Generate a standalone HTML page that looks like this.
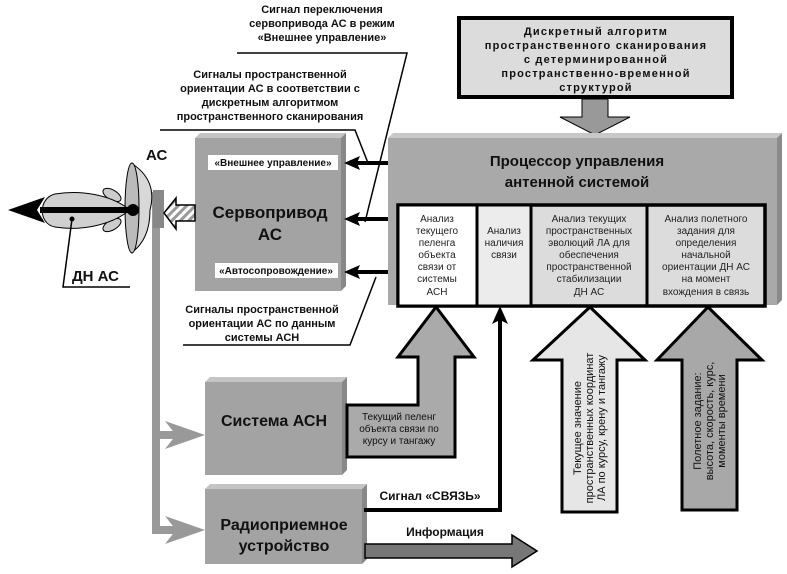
<!DOCTYPE html>
<html><head><meta charset="utf-8"><style>
html,body{margin:0;padding:0;background:#fff;}
svg{display:block;font-family:"Liberation Sans","DejaVu Sans",sans-serif;}
</style></head><body>
<svg width="787" height="574" viewBox="0 0 787 574" xmlns="http://www.w3.org/2000/svg">
<defs>
<pattern id="hatch" width="6" height="6" patternUnits="userSpaceOnUse" patternTransform="rotate(45)">
<rect width="6" height="6" fill="#fff"/><rect width="3" height="6" fill="#999"/></pattern>
</defs>

<g font-size="11" font-weight="bold" text-anchor="middle" fill="#111">
<text x="322" y="13">Сигнал переключения</text>
<text x="322" y="27">сервопривода АС в режим</text>
<text x="322" y="41">«Внешнее управление»</text>
<text x="270" y="78">Сигналы пространственной</text>
<text x="270" y="92">ориентации АС в соответствии с</text>
<text x="270" y="106">дискретным алгоритмом</text>
<text x="270" y="120">пространственного сканирования</text>
<text x="262" y="313">Сигналы пространственной</text>
<text x="262" y="327">ориентации АС по данным</text>
<text x="262" y="341">системы АСН</text>
</g>
<g stroke="#000" stroke-width="1.5" fill="none">
<polyline points="237,53 407,53 365,222"/>
<polyline points="160,130 355,130 368,163"/>
<polyline points="183,345 350,345 376,277"/>
</g>

<rect x="459" y="18" width="273" height="79" fill="#dcdcdc" stroke="#000" stroke-width="4"/>
<g font-size="11" font-weight="bold" text-anchor="middle" letter-spacing="1.2" fill="#111">
<text x="596" y="35">Дискретный алгоритм</text>
<text x="596" y="49">пространственного сканирования</text>
<text x="596" y="63">с детерминированной</text>
<text x="596" y="77">пространственно-временной</text>
<text x="596" y="91">структурой</text>
</g>
<polygon points="582,99 608,99 608,117 630,117 595,135 560,117 582,117" fill="#999" stroke="#000" stroke-width="1"/>

<polygon points="388,138 777,138 782,133 393,133" fill="#c8c8c8"/>
<polygon points="777,138 782,133 782,300 777,305" fill="#8a8a8a"/>
<rect x="388" y="138" width="389" height="167" fill="#a9a9a9"/>
<g font-size="15" font-weight="bold" text-anchor="middle" fill="#111">
<text x="577" y="166">Процессор управления</text>
<text x="577" y="187">антенной системой</text>
</g>
<rect x="398" y="205" width="367" height="101" fill="#dcdcdc" stroke="#000" stroke-width="3.5"/>
<rect x="399.5" y="206.5" width="77" height="98" fill="#fff"/>
<rect x="477" y="206.5" width="53" height="98" fill="#ececec"/>
<g stroke="#000" stroke-width="3"><line x1="477" y1="205" x2="477" y2="306"/><line x1="531" y1="205" x2="531" y2="306"/><line x1="647" y1="205" x2="647" y2="306"/></g>
<g font-size="10" text-anchor="middle" fill="#222">
<text x="437" y="222">Анализ</text><text x="437" y="234">текущего</text><text x="437" y="246">пеленга</text><text x="437" y="258">объекта</text><text x="437" y="270">связи от</text><text x="437" y="282">системы</text><text x="437" y="295">АСН</text>
<text x="504" y="234">Анализ</text><text x="504" y="246">наличия</text><text x="504" y="258">связи</text>
<text x="589" y="222">Анализ текущих</text><text x="589" y="234">пространственных</text><text x="589" y="246">эволюций ЛА для</text><text x="589" y="258">обеспечения</text><text x="589" y="270">пространственной</text><text x="589" y="282">стабилизации</text><text x="589" y="295">ДН АС</text>
<text x="706" y="222">Анализ полетного</text><text x="706" y="234">задания для</text><text x="706" y="246">определения</text><text x="706" y="258">начальной</text><text x="706" y="270">ориентации ДН АС</text><text x="706" y="282">на момент</text><text x="706" y="295">вхождения в связь</text>
</g>

<polygon points="195,138 341,138 346,133 200,133" fill="#c4c4c4"/>
<polygon points="341,138 346,133 346,286 341,291" fill="#888"/>
<rect x="195" y="138" width="146" height="153" fill="#a3a3a3"/>
<rect x="208" y="155" width="130" height="15" fill="#fff"/>
<rect x="215" y="263" width="123" height="15" fill="#fff"/>
<g font-size="10" font-weight="bold" text-anchor="middle" fill="#111">
<text x="273" y="166">«Внешнее управление»</text>
<text x="276" y="274">«Автосопровождение»</text>
</g>
<g font-size="17" font-weight="bold" text-anchor="middle" fill="#111">
<text x="270" y="218">Сервопривод</text><text x="270" y="240">АС</text>
</g>
<g stroke="#000" stroke-width="4"><line x1="388" y1="163" x2="355" y2="163"/><line x1="388" y1="219" x2="355" y2="219"/><line x1="388" y1="272" x2="355" y2="272"/></g>
<g fill="#000"><polygon points="344,163 360,156 357,163 360,170"/><polygon points="344,219 360,212 357,219 360,226"/><polygon points="344,272 360,265 357,272 360,279"/></g>

<rect x="152" y="192" width="8" height="342" fill="#999"/>
<rect x="153" y="190" width="11" height="38" fill="#888"/>
<rect x="157" y="431" width="20" height="8" fill="#999"/>
<rect x="157" y="526" width="20" height="8" fill="#999"/>
<polygon points="165,421 205,435 165,449 176,435" fill="#999"/>
<polygon points="165,516 205,530 165,544 176,530" fill="#999"/>
<polygon points="164,213 176,198 176,205 195,205 195,221 176,221 176,229" fill="url(#hatch)" stroke="#000" stroke-width="1.5"/>
<path d="M131,163 Q158,180 150,210 Q150,240 131,253" fill="#d8d8d8" stroke="#000" stroke-width="1"/>
<ellipse cx="132" cy="208" rx="7" ry="45" fill="#bbb" stroke="#000" stroke-width="1"/>
<ellipse cx="112" cy="195" rx="10" ry="5" transform="rotate(30 112 195)" fill="#ccc" stroke="#000"/>
<ellipse cx="112" cy="225" rx="10" ry="5" transform="rotate(-30 112 225)" fill="#ccc" stroke="#000"/>
<path d="M130,210 C110,194 80,190 55,194 C38,198 38,224 55,227 C80,231 110,226 130,210Z" fill="#d0d0d0" stroke="#000" stroke-width="1"/>
<rect x="40" y="207" width="93" height="6" fill="#000"/>
<polygon points="8,210 45,197 37,210 45,223" fill="#000"/>
<circle cx="133" cy="210" r="6" fill="#000"/>
<circle cx="72" cy="219" r="2.5" fill="#000"/>
<polyline points="72,219 63,287 130,287" fill="none" stroke="#000" stroke-width="1.5"/>
<text x="72" y="281" font-size="15" font-weight="bold" fill="#111">ДН АС</text>
<text x="146" y="160" font-size="15" font-weight="bold" fill="#111">АС</text>

<polygon points="205,382 342,382 347,377 210,377" fill="#c4c4c4"/>
<polygon points="342,382 347,377 347,470 342,475" fill="#888"/>
<rect x="205" y="382" width="137" height="93" fill="#a3a3a3"/>
<text x="274" y="426" font-size="16" font-weight="bold" text-anchor="middle" fill="#111">Система АСН</text>
<polygon points="347,405 418,405 418,357 398,357 436,307 474,357 455,357 455,457 347,457" fill="#aaa" stroke="#000" stroke-width="3"/>
<g font-size="10" text-anchor="middle" fill="#111">
<text x="399" y="420">Текущий пеленг</text><text x="399" y="432">объекта связи по</text><text x="399" y="444">курсу и тангажу</text>
</g>

<polygon points="205,489 362,489 367,484 210,484" fill="#c4c4c4"/>
<polygon points="362,489 367,484 367,559 362,564" fill="#888"/>
<rect x="205" y="489" width="157" height="75" fill="#a3a3a3"/>
<g font-size="16" font-weight="bold" text-anchor="middle" fill="#111">
<text x="284" y="530">Радиоприемное</text><text x="284" y="551">устройство</text>
</g>
<polyline points="364,510 500,510 500,320" fill="none" stroke="#000" stroke-width="4"/>
<polygon points="500,306 508,324 500,320 492,324" fill="#000"/>
<text x="430" y="500" font-size="12" font-weight="bold" text-anchor="middle" fill="#111">Сигнал «СВЯЗЬ»</text>
<polygon points="365,544 512,544 512,535 537,551 512,567 512,558 365,558" fill="#777" stroke="#000" stroke-width="1.5"/>
<text x="445" y="536" font-size="12" font-weight="bold" text-anchor="middle" fill="#111">Информация</text>

<polygon points="590,307 645,360 617,360 617,512 562,512 562,360 533,360" fill="#e6e6e6" stroke="#000" stroke-width="3"/>
<polygon points="708,307 762,360 737,360 737,510 682,510 682,360 657,360" fill="#a8a8a8" stroke="#000" stroke-width="3"/>
<g font-size="11" text-anchor="middle" fill="#111">
<g transform="translate(590,428) rotate(-90)">
<text x="0" y="-9">Текущее значение</text><text x="0" y="3">пространственных координат</text><text x="0" y="15">ЛА по курсу, крену и тангажу</text>
</g>
<g transform="translate(709,421) rotate(-90)">
<text x="0" y="-8">Полетное задание:</text><text x="0" y="4">высота, скорость, курс,</text><text x="0" y="16">моменты времени</text>
</g>
</g>
</svg>
</body></html>
